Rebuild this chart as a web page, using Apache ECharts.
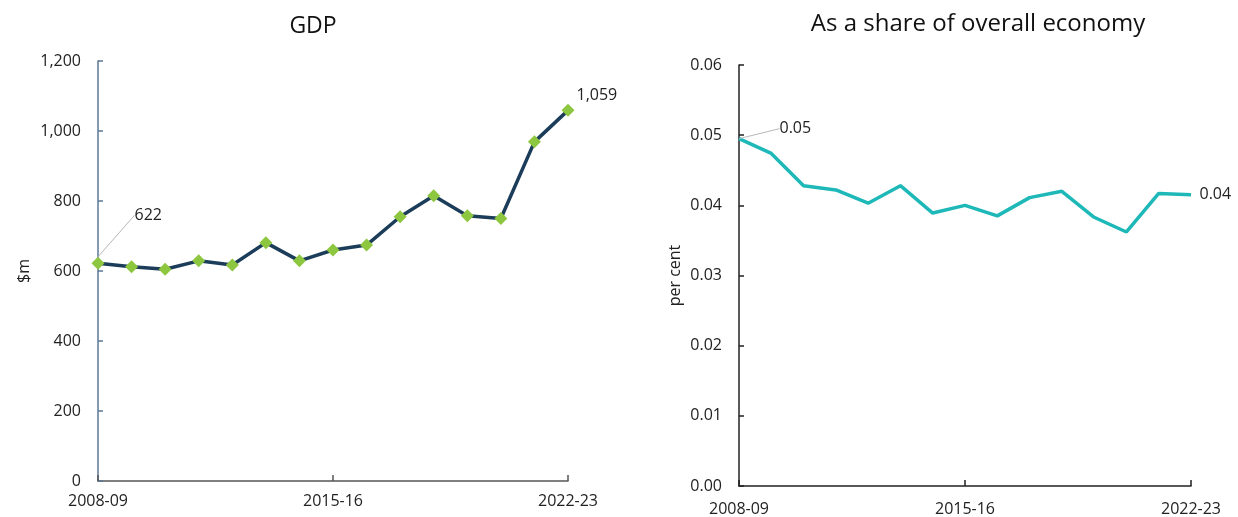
<!DOCTYPE html>
<html>
<head>
<meta charset="utf-8">
<script src="https://cdn.jsdelivr.net/npm/echarts@6/dist/echarts.min.js"></script>
<style>
  html, body { margin: 0; padding: 0; background: #ffffff; }
  #chart { width: 1238px; height: 517px; }
</style>
</head>
<body>
<div id="chart"></div>
<script>
// Financial years shown on both panels
const years = ['2008-09','2009-10','2010-11','2011-12','2012-13','2013-14','2014-15',
  '2015-16','2016-17','2017-18','2018-19','2019-20','2020-21','2021-22','2022-23'];

// Gross domestic product, $m
const gdpValues = [622, 612, 605, 629, 617, 681, 629, 660, 674, 755, 815, 758, 750, 969, 1059];

// Share of the overall economy, per cent
const shareValues = [0.0495, 0.0474, 0.0428, 0.0422, 0.0403, 0.0428, 0.0389, 0.0400,
  0.0385, 0.0411, 0.0420, 0.0383, 0.0362, 0.0417, 0.0415];

// Axis tick values
const gdpTicks = { min: 0, max: 1200, interval: 200 };
const shareTicks = { min: 0, max: 0.06, interval: 0.01 };

const FONT = 'Open Sans';
const lastIdx = years.length - 1;

function withCommas(v) {
  return String(Math.round(v)).replace(/\B(?=(\d{3})+(?!\d))/g, ',');
}

function catAxis(gridIndex, lineColor, margin) {
  return {
    type: 'category', gridIndex, data: years, boundaryGap: false,
    axisLine: { lineStyle: { color: lineColor, width: 1.5 } },
    axisTick: { show: true, inside: true, interval: 6, length: 6, lineStyle: { color: lineColor, width: 1.5 } },
    axisLabel: { interval: 6, color: '#222', fontFamily: FONT, fontSize: 16, margin },
    splitLine: { show: false }
  };
}

function valAxis(gridIndex, ticks, name, lineColor, fmt, nameGap) {
  return {
    type: 'value', gridIndex, min: ticks.min, max: ticks.max, interval: ticks.interval,
    name, nameLocation: 'middle', nameGap, nameRotate: 90,
    nameTextStyle: { color: '#222', fontFamily: FONT, fontSize: 16 },
    axisLine: { show: true, lineStyle: { color: lineColor, width: 1.5 } },
    axisTick: { show: true, inside: true, length: 5, lineStyle: { color: lineColor, width: 1.5 } },
    axisLabel: { color: '#222', fontFamily: FONT, fontSize: 16, margin: 17, formatter: fmt },
    splitLine: { show: false }
  };
}

// Only the first and last points carry a value label
function labelled(values, lastLabel) {
  return values.map((v, i) => {
    const item = { value: v };
    if (i === 0) {
      item.label = { show: true, position: 'right', distance: 4 };
      item.labelLine = { show: true, lineStyle: { color: '#b8b8b8', width: 1 } };
    } else if (i === lastIdx) {
      item.label = Object.assign({ show: true }, lastLabel);
    }
    return item;
  });
}

const chart = echarts.init(document.getElementById('chart'));

chart.setOption({
  backgroundColor: '#ffffff',
  animation: false,
  title: [
    { text: 'GDP', left: 308, top: 10, textAlign: 'center',
      textStyle: { fontFamily: FONT, fontSize: 23, fontWeight: 'normal', color: '#111' } },
    { text: 'As a share of overall economy', left: 973, top: 7, textAlign: 'center',
      textStyle: { fontFamily: FONT, fontSize: 24, fontWeight: 'normal', color: '#111' } }
  ],
  grid: [
    { left: 98, top: 61, width: 470, bottom: 36 },
    { left: 739, top: 65, width: 452, bottom: 31 }
  ],
  xAxis: [catAxis(0, '#555', 12), catAxis(1, '#222', 15)],
  yAxis: [
    valAxis(0, gdpTicks, '$m', '#5a7896', v => withCommas(v), 66),
    valAxis(1, shareTicks, 'per cent', '#222', v => v.toFixed(2), 56)
  ],
  series: [
    {
      type: 'line', xAxisIndex: 0, yAxisIndex: 0,
      data: labelled(gdpValues, { position: 'right', distance: 2 }),
      label: { show: false, color: '#222', fontFamily: FONT, fontSize: 16, formatter: p => withCommas(p.value) },
      labelLayout: p => (p.dataIndex === 0 ? { dx: 26, dy: -48 } : { dy: -15 }),
      symbol: 'diamond', symbolSize: 13, showAllSymbol: true,
      itemStyle: { color: '#8dc63f' },
      lineStyle: { color: '#1b3d5a', width: 3.5 },
      z: 3
    },
    {
      type: 'line', xAxisIndex: 1, yAxisIndex: 1,
      data: labelled(shareValues, { position: 'right', distance: 8 }),
      label: { show: false, color: '#222', fontFamily: FONT, fontSize: 16, formatter: p => p.value.toFixed(2) },
      labelLayout: p => (p.dataIndex === 0 ? { dx: 36, dy: -10 } : {}),
      symbol: 'circle', symbolSize: 1, showAllSymbol: true,
      itemStyle: { color: 'rgba(0,0,0,0)', borderWidth: 0 },
      lineStyle: { color: '#1fb8b8', width: 3.5 },
      z: 3
    }
  ]
});
</script>
</body>
</html>
